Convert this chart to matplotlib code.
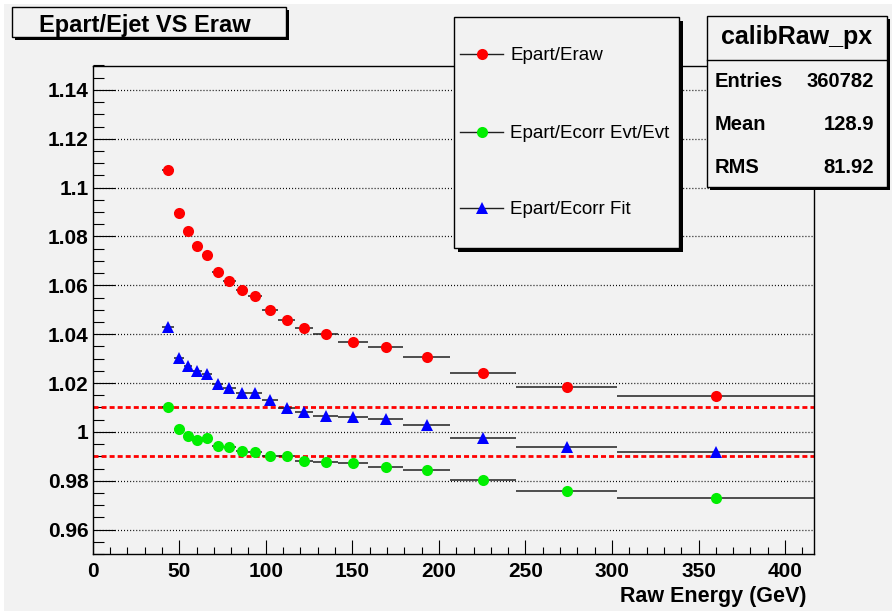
import matplotlib
matplotlib.use("Agg")
import matplotlib.pyplot as plt
import numpy as np
from matplotlib.lines import Line2D
from matplotlib.patches import Rectangle
from matplotlib.ticker import MultipleLocator, FormatStrFormatter

plt.rcParams['font.family'] = ['Liberation Sans', 'DejaVu Sans']
plt.rcParams['lines.scale_dashes'] = False

# variable-width raw energy bins (GeV)
bin_edges = [40, 47, 52.5, 57.5, 63, 69, 75.5, 82.5, 90, 98, 107, 117,
             127.5, 142, 159, 179.5, 206.5, 244.5, 303, 417]

epart_eraw = [1.1074, 1.0895, 1.0821, 1.0759, 1.0724, 1.0654, 1.0618, 1.0579,
              1.0555, 1.0499, 1.0457, 1.0426, 1.0400, 1.0369, 1.0347, 1.0307,
              1.0240, 1.0184, 1.0147]
epart_ecorr_evt = [1.0102, 1.0010, 0.9982, 0.9965, 0.9973, 0.9942, 0.9939,
                   0.9923, 0.9916, 0.9902, 0.9900, 0.9881, 0.9877, 0.9871,
                   0.9857, 0.9844, 0.9803, 0.9759, 0.9730]
epart_ecorr_fit = [1.0431, 1.0304, 1.0270, 1.0248, 1.0236, 1.0195, 1.0179,
                   1.0161, 1.0158, 1.0131, 1.0097, 1.0080, 1.0066, 1.0060,
                   1.0052, 1.0027, 0.9976, 0.9939, 0.9918]

ref_band = [0.99, 1.01]

series_labels = ['Epart/Eraw', 'Epart/Ecorr Evt/Evt', 'Epart/Ecorr Fit']
stats_names = ['Entries', 'Mean', 'RMS']
stats_values = ['360782', '128.9', '81.92']

W, H = 892, 611
BG = '#f2f2f2'


def fx(x):
    return x / W


def fy(y):
    return 1 - y / H


def pave(fig, x0, y0, x1, y1, shadow=4):
    # box with a dark drop shadow, pixel coordinates from the top-left corner
    fig.add_artist(Rectangle((fx(x0 + shadow), fy(y1 + shadow)), (x1 - x0) / W, (y1 - y0) / H,
                             transform=fig.transFigure, facecolor='black', edgecolor='none', zorder=10))
    fig.add_artist(Rectangle((fx(x0), fy(y1)), (x1 - x0) / W, (y1 - y0) / H,
                             transform=fig.transFigure, facecolor=BG, edgecolor='black',
                             linewidth=1.0, zorder=11))


fig = plt.figure(figsize=(W / 100, H / 100), dpi=100, facecolor='white')
fig.add_artist(Rectangle((fx(4), 0), 1, fy(4), transform=fig.transFigure,
                         facecolor=BG, edgecolor='none', zorder=0))

ax = fig.add_axes([fx(92.7), fy(554), (814.5 - 92.7) / W, (554 - 65.5) / H])
ax.set_facecolor(BG)

edges = np.array(bin_edges)
centers = (edges[:-1] + edges[1:]) / 2
half = (edges[1:] - edges[:-1]) / 2

for lvl in ref_band:
    ax.axhline(lvl, color='#ff0000', linewidth=2.0, dashes=(3.6, 2.2), zorder=2)

styles = [(epart_eraw, '#ff0000', 'o', 8.0),
          (epart_ecorr_evt, '#00ee00', 'o', 8.0),
          (epart_ecorr_fit, '#0000ff', '^', 8.6)]
for vals, col, mk, ms in styles:
    ax.errorbar(centers, vals, xerr=half, fmt='none', ecolor='#202020', elinewidth=1.1, zorder=3)
    ax.plot(centers, vals, linestyle='none', marker=mk, markersize=ms,
            color=col, markeredgewidth=0, zorder=4)

ax.set_xlim(0, 417)
ax.set_ylim(0.95, 1.15)
ax.xaxis.set_major_locator(MultipleLocator(50))
ax.xaxis.set_minor_locator(MultipleLocator(10))
ax.yaxis.set_major_locator(MultipleLocator(0.02))
ax.yaxis.set_minor_locator(MultipleLocator(0.005))
ax.xaxis.set_major_formatter(FormatStrFormatter('%g'))
ax.yaxis.set_major_formatter(FormatStrFormatter('%g'))
ax.yaxis.grid(True, which='major', color='black', linewidth=0.9, dashes=(0.7, 1.5))
ax.set_axisbelow(True)

ax.tick_params(axis='y', which='major', direction='in', length=15.8, width=0.8, pad=3,
               labelsize=15, right=False)
ax.tick_params(axis='y', which='minor', direction='in', length=7.9, width=0.8, right=False)
ax.tick_params(axis='x', which='major', direction='in', length=10, width=0.8, pad=6,
               labelsize=15, top=False)
ax.tick_params(axis='x', which='minor', direction='in', length=5, width=0.8, top=False)
for lab in ax.get_xticklabels() + ax.get_yticklabels():
    lab.set_fontweight('bold')
for sp in ax.spines.values():
    sp.set_linewidth(1.0)

fig.text(fx(807), fy(602), 'Raw Energy (GeV)', ha='right', va='baseline',
         fontsize=15.5, fontweight='bold')

# title pave
pave(fig, 12, 7, 286, 37, shadow=3)
fig.text(fx(145), fy(31.7), 'Epart/Ejet VS Eraw', ha='center', va='baseline',
         fontsize=17, fontweight='bold', zorder=12)

# legend pave
pave(fig, 454, 17, 679, 248, shadow=4)
leg_base = [60, 138.3, 214]
leg_mark = [('#ff0000', 'o', 8.0), ('#00ee00', 'o', 8.0), ('#0000ff', '^', 8.6)]
for lbl, yb, (col, mk, ms) in zip(series_labels, leg_base, leg_mark):
    ym = yb - 6
    fig.add_artist(Line2D([fx(460), fx(503)], [fy(ym), fy(ym)], transform=fig.transFigure,
                          color='#202020', linewidth=1.0, zorder=12))
    fig.add_artist(Line2D([fx(482)], [fy(ym)], transform=fig.transFigure, linestyle='none',
                          marker=mk, markersize=ms, color=col, markeredgewidth=0, zorder=13))
    fig.text(fx(510), fy(yb), lbl, ha='left', va='baseline', fontsize=13.5, zorder=13)

# stats pave
pave(fig, 707, 16, 887, 187, shadow=3)
fig.add_artist(Line2D([fx(707), fx(887)], [fy(60), fy(60)], transform=fig.transFigure,
                      color='black', linewidth=1.0, zorder=12))
fig.text(fx(797), fy(44.3), 'calibRaw_px', ha='center', va='baseline',
         fontsize=18, fontweight='bold', zorder=13)
for name, val, yb in zip(stats_names, stats_values, [87.3, 130, 172.7]):
    fig.text(fx(715), fy(yb), name, ha='left', va='baseline', fontsize=14.5,
             fontweight='bold', zorder=13)
    fig.text(fx(874), fy(yb), val, ha='right', va='baseline', fontsize=14.5,
             fontweight='bold', zorder=13)

fig.savefig('out.png', dpi=100, facecolor=fig.get_facecolor())
